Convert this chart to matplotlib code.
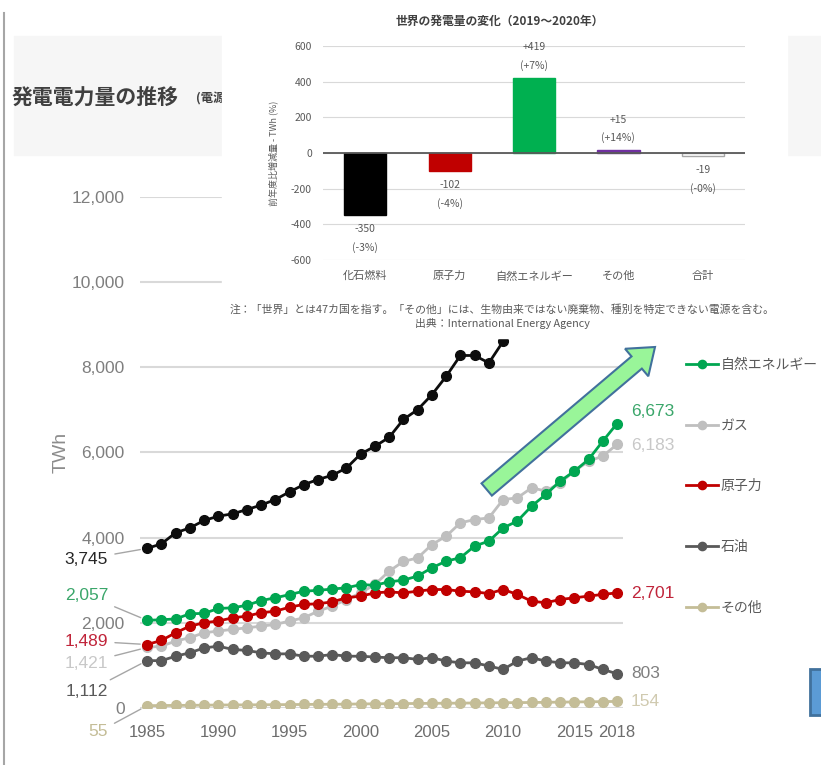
import matplotlib
matplotlib.use('Agg')
import matplotlib.pyplot as plt
from matplotlib import font_manager
from matplotlib.patches import Rectangle, FancyArrow
from matplotlib.lines import Line2D
from matplotlib.transforms import IdentityTransform

# --- data ---
years = list(range(1985, 2019))
coal = [3745, 3850, 4110, 4225, 4400, 4500, 4555, 4655, 4760, 4890, 5070, 5240,
        5360, 5460, 5630, 5960, 6140, 6350, 6770, 7000, 7350, 7780, 8270, 8270,
        8095, 8600, 9100, 9150, 9600, 9700, 9500, 9400, 9700, 10100]
renew = [2057, 2070, 2090, 2210, 2220, 2335, 2350, 2410, 2520, 2585, 2660, 2740,
         2760, 2790, 2820, 2895, 2880, 2960, 3000, 3095, 3290, 3445, 3525, 3800,
         3915, 4225, 4385, 4735, 5010, 5320, 5555, 5830, 6260, 6673]
gas = [1421, 1450, 1570, 1650, 1765, 1805, 1845, 1880, 1920, 1960, 2040, 2115,
       2270, 2390, 2545, 2700, 2900, 3210, 3440, 3520, 3835, 4030, 4345, 4420,
       4460, 4890, 4930, 5165, 5090, 5280, 5555, 5790, 5910, 6183]
nuclear = [1489, 1585, 1765, 1920, 2000, 2040, 2115, 2155, 2235, 2270, 2365, 2430,
           2445, 2490, 2585, 2625, 2700, 2725, 2700, 2740, 2780, 2780, 2740, 2725,
           2685, 2780, 2665, 2505, 2470, 2545, 2585, 2625, 2665, 2701]
oil = [1112, 1110, 1215, 1295, 1410, 1450, 1375, 1350, 1295, 1270, 1270, 1215,
       1215, 1255, 1215, 1215, 1195, 1180, 1180, 1140, 1180, 1100, 1060, 1060,
       985, 905, 1100, 1180, 1100, 1060, 1060, 1020, 905, 803]
other = [55, 58, 61, 63, 66, 70, 72, 73, 76, 78, 80, 83, 86, 88, 90, 95, 98, 100,
         104, 106, 110, 112, 114, 118, 121, 124, 126, 130, 133, 138, 142, 145, 150, 154]
year_ticks = [1985, 1990, 1995, 2000, 2005, 2010, 2015, 2018]

bar_cats = ['化石燃料', '原子力', '自然エネルギー', 'その他', '合計']
bar_vals = [-350, -102, 419, 15, -19]
bar_pcts = ['-3%', '-4%', '+7%', '+14%', '-0%']

plt.rcParams['font.family'] = ['Noto Sans CJK JP', 'DejaVu Sans']
plt.rcParams['axes.unicode_minus'] = False

names = {f.name for f in font_manager.fontManager.ttflist}
num_font = 'Liberation Sans' if 'Liberation Sans' in names else 'DejaVu Sans'

W, H = 821, 765
fig = plt.figure(figsize=(W / 100, H / 100), dpi=100)
fig.patch.set_facecolor('white')


def fx(px):
    return px / W


def fy(py):
    return 1 - py / H


# page frame line and header band
fig.add_artist(Line2D([fx(4), fx(4)], [fy(13), 0], color='#a6a6a6', lw=1.5, zorder=0.4))
fig.add_artist(Rectangle((fx(14), fy(155)), 1 - fx(14), (155 - 36) / H,
                         transform=fig.transFigure, color='#f6f6f6', zorder=0.3))
fig.text(fx(12), fy(97), '発電電力量の推移', fontsize=15, fontweight='bold',
         color='#404040', va='center', ha='left', zorder=0.5)
fig.text(fx(196), fy(99), '(電源別)', fontsize=9, fontweight='bold',
         color='#404040', va='center', ha='left', zorder=0.5)

# --- main line chart ---
ax = fig.add_axes([fx(140), fy(708), fx(623) - fx(140), (708 - 196.5) / H], zorder=0)
series = [
    (other, '#c4bd97', 'その他'),
    (oil, '#595959', '石油'),
    (gas, '#bfbfbf', 'ガス'),
    (nuclear, '#c00000', '原子力'),
    (renew, '#00a651', '自然エネルギー'),
    (coal, '#0d0d0d', '石炭'),
]
lines = {}
for vals, col, name in series:
    ln, = ax.plot(years, vals, color=col, lw=2.0, marker='o', ms=7, mec=col, zorder=3)
    lines[name] = ln

ax.set_xlim(1984.5, 2018.42)
ax.set_ylim(0, 12000)
ax.set_yticks(range(0, 12001, 2000))
ax.set_yticklabels([f'{v:,}' for v in range(0, 12001, 2000)])
ax.set_xticks(year_ticks)
ax.grid(axis='y', color='#d9d9d9', lw=1.5)
ax.set_axisbelow(True)
for s in ax.spines.values():
    s.set_visible(False)
ax.tick_params(axis='y', length=0, pad=11, labelsize=12.5, labelcolor='#7f7f7f')
ax.tick_params(axis='x', length=0, pad=12, labelsize=12, labelcolor='#6d6d6d')
for lab in ax.get_xticklabels() + ax.get_yticklabels():
    lab.set_family(num_font)
ax.set_ylabel('TWh', fontsize=14, color='#8c8c8c', family=num_font)
ax.yaxis.set_label_coords((70 - 140) / 483, 0.5)

# first-year labels with leader lines
left_labels = [
    (coal[0], '#262626', 559),
    (renew[0], '#3aa66a', 595),
    (nuclear[0], '#c0243a', 641),
    (gas[0], '#c8c8c8', 663),
    (oil[0], '#595959', 692),
    (other[0], '#c4bd97', 732),
]
for val, col, ty in left_labels:
    ax.annotate(f'{val:,}', xy=(years[0], val), xytext=(108, H - ty),
                textcoords='figure pixels', ha='right', va='center',
                fontsize=12.5, color=col, family=num_font,
                arrowprops=dict(arrowstyle='-', color='#a6a6a6', lw=1,
                                shrinkA=3, shrinkB=5))

# last-year labels
right_labels = [
    (renew[-1], '#3aa66a', 412),
    (gas[-1], '#c8c8c8', 445),
    (nuclear[-1], '#c0243a', 593),
    (oil[-1], '#7f7f7f', 673),
    (other[-1], '#d0cab0', 702),
]
for val, col, ty in right_labels:
    ax.annotate(f'{val:,}', xy=(years[-1], val), xytext=(631, H - ty),
                textcoords='figure pixels', ha='left', va='center',
                fontsize=12.5, color=col, family=num_font)

leg_names = ['自然エネルギー', 'ガス', '原子力', '石油', 'その他']
leg = ax.legend([lines[n] for n in leg_names], leg_names, loc='upper left',
                bbox_to_anchor=(fx(686), fy(358)), bbox_transform=fig.transFigure,
                frameon=False, fontsize=10, labelcolor='#595959',
                handlelength=2.3, handletextpad=0.2, labelspacing=3.36,
                borderpad=0, borderaxespad=0, markerscale=0.85)

# green block arrow and blue box
fig.add_artist(FancyArrow(486.7, H - 489.5, 168.3, 142.5, width=16, head_width=36,
                          head_length=24, length_includes_head=True,
                          transform=IdentityTransform(), facecolor='#99f599',
                          edgecolor='#41719c', lw=1.5, zorder=4))
fig.add_artist(Rectangle((810, H - 715), 16, 46, transform=IdentityTransform(),
                         facecolor='#5b9bd5', edgecolor='#41719c', lw=2, zorder=4))

# --- inset bar chart (pasted image) ---
fig.add_artist(Rectangle((fx(222), fy(338)), fx(787) - fx(222), 338 / H,
                         transform=fig.transFigure, color='white', zorder=1))
ax2 = fig.add_axes([fx(323), fy(260), fx(745) - fx(323), (260 - 46) / H], zorder=2)
ax2.patch.set_alpha(0)
xs = list(range(len(bar_cats)))
bar_colors = ['#000000', '#c00000', '#00b050', '#7030a0', '#ffffff']
bar_edges = ['#000000', '#c00000', '#00b050', '#7030a0', '#a6a6a6']
ax2.bar(xs, bar_vals, width=0.5, color=bar_colors, edgecolor=bar_edges, lw=1, zorder=3)
ax2.axhline(0, color='#595959', lw=1.3, zorder=4)
ax2.set_xlim(-0.5, 4.5)
ax2.set_ylim(-600, 600)
ax2.set_yticks(range(-600, 601, 200))
ax2.set_xticks(xs)
ax2.set_xticklabels(bar_cats)
ax2.grid(axis='y', color='#d9d9d9', lw=0.8)
ax2.set_axisbelow(True)
for s in ax2.spines.values():
    s.set_visible(False)
ax2.tick_params(axis='y', length=0, pad=8, labelsize=7.5, labelcolor='#595959')
ax2.tick_params(axis='x', length=0, pad=8, labelsize=8, labelcolor='#595959')
ax2.set_ylabel('前年度比増減量 - TWh (%)', fontsize=6.5, color='#595959')
ax2.yaxis.set_label_coords((278 - 323) / 422, 0.5)

for i, (v, p) in enumerate(zip(bar_vals, bar_pcts)):
    if v >= 0:
        dy, va = 7, 'bottom'
    else:
        dy, va = -9, 'top'
    ax2.annotate(f'{v:+d}\n({p})', xy=(i, v), xytext=(0, dy), textcoords='offset pixels',
                 ha='center', va=va, fontsize=7.5, color='#595959', linespacing=1.9)

fig.text(fx(500), fy(21), '世界の発電量の変化（2019～2020年）', fontsize=8.5,
         fontweight='bold', color='#404040', ha='center', va='center')
fig.text(fx(502), fy(309), '注：「世界」とは47カ国を指す。「その他」には、生物由来ではない廃棄物、種別を特定できない電源を含む。',
         fontsize=7.8, color='#595959', ha='center', va='center')
fig.text(fx(502), fy(323), '出典：International Energy Agency',
         fontsize=7.8, color='#595959', ha='center', va='center')

fig.savefig('out.png', dpi=100)
